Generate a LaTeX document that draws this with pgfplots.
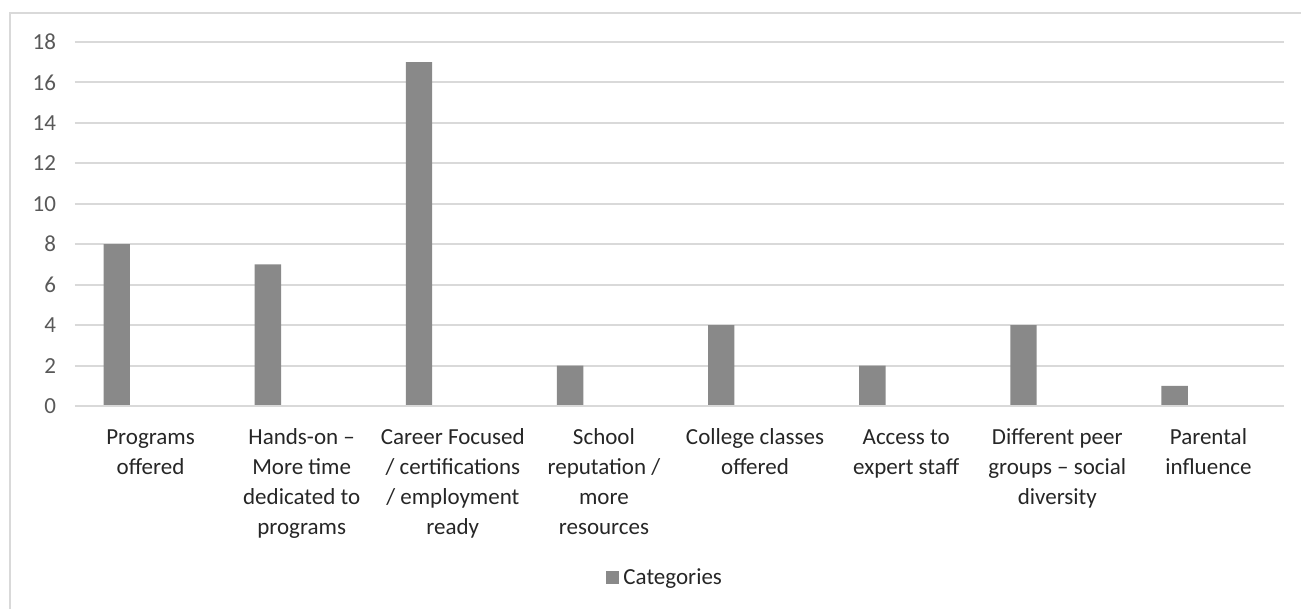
\documentclass[border=0pt]{standalone}
\usepackage{pgfplots}
\pgfplotsset{compat=1.18}
\usepackage{fontspec}
\setmainfont{Carlito}
\definecolor{barfill}{RGB}{137,137,137}
\definecolor{gridc}{RGB}{217,217,217}
\definecolor{ticktxt}{RGB}{89,89,89}
\definecolor{cattxt}{RGB}{38,38,38}

\begin{document}
\begin{tikzpicture}
\useasboundingbox (-37.5pt,-101.5pt) rectangle (613pt,203pt);
% chart frame (left and top edges visible)
\draw[gridc, line width=1pt] (-32.25pt,-102pt) -- (-32.25pt,196.5pt) -- (614pt,196.5pt);
\begin{axis}[
  at={(0,0)}, anchor=south west,
  scale only axis,
  width=604.5pt, height=182pt,
  xmin=-0.5, xmax=7.5,
  ymin=0, ymax=18,
  ytick={0,2,...,18},
  xtick={0,...,7},
  xticklabels={
    {\strut Programs\\offered},
    {\strut Hands-on –\\More time\\dedicated to\\programs},
    {\strut Career Focused\\/ certifications\\/ employment\\ready},
    {\strut School\\reputation /\\more\\resources},
    {\strut College classes\\offered},
    {\strut Access to\\expert staff},
    {\strut Different peer\\groups – social\\diversity},
    {\strut Parental\\influence}},
  xticklabel style={align=center, font=\fontsize{11.5}{15}\selectfont, text=cattxt, yshift=-5pt},
  yticklabel style={font=\fontsize{11.5}{14}\selectfont, text=ticktxt, xshift=-6pt},
  /pgf/number format/assume math mode=true,
  major tick length=0pt,
  axis line style={draw=none},
  ymajorgrids,
  grid style={gridc, line width=1pt},
  ybar, bar width=13.15pt, bar shift=-16.9pt,
  legend style={at={(0.489,-0.4725)}, anchor=center, draw=none,
    font=\fontsize{11.5}{14}\selectfont, text=cattxt,
    legend cell align=left, inner sep=0pt},
  legend image code/.code={\fill[barfill] (0pt,-3.2pt) rectangle (6.5pt,3.3pt);},
]
\addplot[fill=barfill, draw=none] coordinates {
  (0,8) (1,7) (2,17) (3,2) (4,4) (5,2) (6,4) (7,1)};
\addlegendentry{Categories}
\draw[gridc, line width=1pt] (axis cs:-0.5,0) -- (axis cs:7.5,0);
\end{axis}
\end{tikzpicture}
\end{document}
